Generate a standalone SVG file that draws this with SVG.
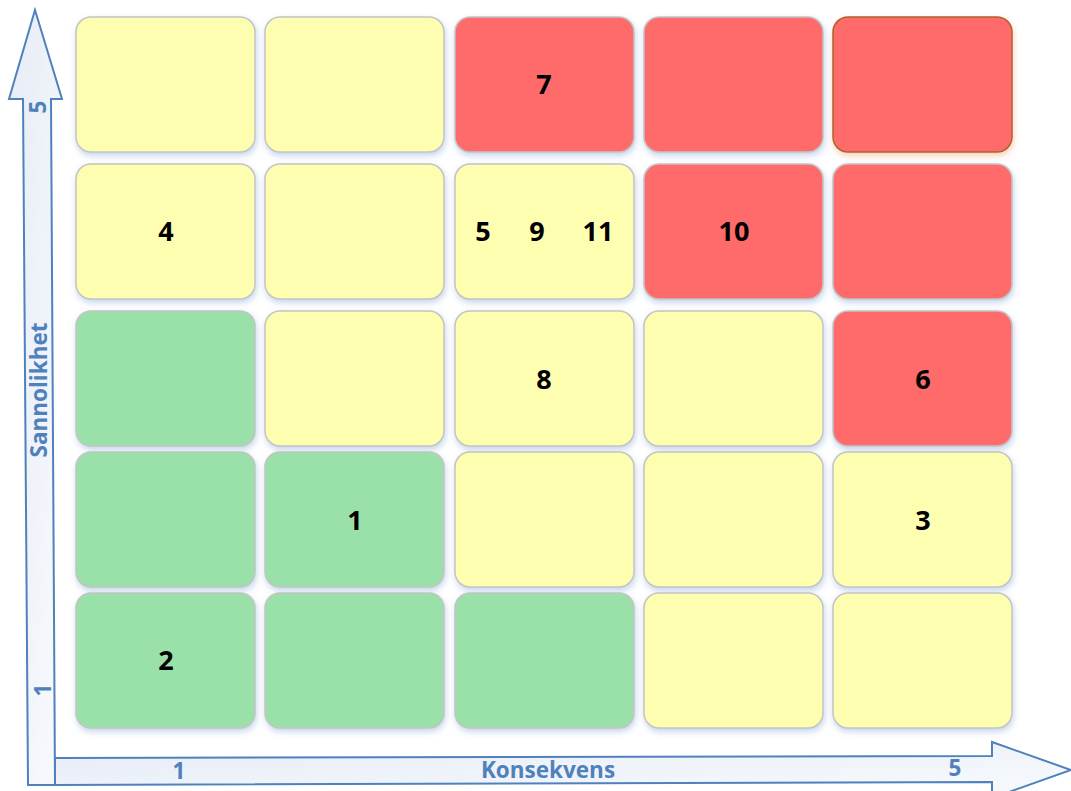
<svg xmlns="http://www.w3.org/2000/svg" width="1071" height="791" viewBox="0 0 1071 791">
<defs>
<filter id="sh" x="-10%" y="-10%" width="125%" height="130%">
<feDropShadow dx="1" dy="3" stdDeviation="3" flood-color="#7FA3D6" flood-opacity="0.45"/>
</filter>
<filter id="glow" x="-10%" y="-10%" width="125%" height="130%">
<feDropShadow dx="1" dy="3" stdDeviation="3" flood-color="#F0A070" flood-opacity="0.5"/>
</filter>
<linearGradient id="ag" x1="0" y1="0" x2="1" y2="1">
<stop offset="0" stop-color="#E6ECF6"/>
<stop offset="1" stop-color="#F8FAFD"/>
</linearGradient>
</defs>
<style>
.c{stroke:#C4C4C4;stroke-width:1.5;filter:url(#sh)}
.y{fill:#FEFEB1}
.g{fill:#99E0A9}
.r{fill:#FF6B6B}
.n{font-family:"Open Sans","Liberation Sans",sans-serif;font-weight:bold;font-size:27px;fill:#000;text-anchor:middle;dominant-baseline:central}
.a{font-family:"Open Sans","Liberation Sans",sans-serif;font-weight:bold;font-size:22.5px;fill:#4F81BD;text-anchor:middle;dominant-baseline:central}
.ar{fill:url(#ag);stroke:#4F81BD;stroke-width:2;stroke-linejoin:miter}
</style>
<g id="axes">
<path class="ar" d="M35,10 L62,99 L51,99 L55,785 L28,785 L23,99 L9,99 Z"/>
<path class="ar" d="M55,758 L992,756 L992,742 L1071,770 L992,798 L992,782 L55,785 Z"/>
<text class="a" transform="translate(37,107) rotate(-90)">5</text>
<text class="a" transform="translate(42,690) rotate(-90)">1</text>
<text class="a" transform="translate(38,390) rotate(-90)">Sannolikhet</text>
<text class="a" x="179" y="770">1</text>
<text class="a" x="548" y="769">Konsekvens</text>
<text class="a" x="955" y="767">5</text>
</g>
<g id="connectors"/>
<g id="r1c1"><rect class="c y" x="76" y="17" width="179" height="135" rx="15"/></g>
<g id="r1c2"><rect class="c y" x="265" y="17" width="179" height="135" rx="15"/></g>
<g id="r1c3"><rect class="c r" x="455" y="17" width="179" height="135" rx="15"/><text class="n" x="544" y="83">7</text></g>
<g id="r1c4"><rect class="c r" x="644" y="17" width="179" height="135" rx="15"/></g>
<g id="r1c5"><rect class="r" x="833" y="17" width="179" height="135" rx="15" stroke="#B0622C" stroke-width="1.5" filter="url(#glow)"/></g>
<g id="r2c1"><rect class="c y" x="76" y="164" width="179" height="135" rx="15"/><text class="n" x="166" y="230">4</text></g>
<g id="r2c2"><rect class="c y" x="265" y="164" width="179" height="135" rx="15"/></g>
<g id="r2c3"><rect class="c y" x="455" y="164" width="179" height="135" rx="15"/><text class="n" x="483" y="230">5</text><text class="n" x="537" y="230">9</text><text class="n" x="598" y="230">11</text></g>
<g id="r2c4"><rect class="c r" x="644" y="164" width="179" height="135" rx="15"/><text class="n" x="734" y="230">10</text></g>
<g id="r2c5"><rect class="c r" x="833" y="164" width="179" height="135" rx="15"/></g>
<g id="r3c1"><rect class="c g" x="76" y="311" width="179" height="135" rx="15"/></g>
<g id="r3c2"><rect class="c y" x="265" y="311" width="179" height="135" rx="15"/></g>
<g id="r3c3"><rect class="c y" x="455" y="311" width="179" height="135" rx="15"/><text class="n" x="544" y="378">8</text></g>
<g id="r3c4"><rect class="c y" x="644" y="311" width="179" height="135" rx="15"/></g>
<g id="r3c5"><rect class="c r" x="833" y="311" width="179" height="135" rx="15"/><text class="n" x="923" y="378">6</text></g>
<g id="r4c1"><rect class="c g" x="76" y="452" width="179" height="135" rx="15"/></g>
<g id="r4c2"><rect class="c g" x="265" y="452" width="179" height="135" rx="15"/><text class="n" x="355" y="519">1</text></g>
<g id="r4c3"><rect class="c y" x="455" y="452" width="179" height="135" rx="15"/></g>
<g id="r4c4"><rect class="c y" x="644" y="452" width="179" height="135" rx="15"/></g>
<g id="r4c5"><rect class="c y" x="833" y="452" width="179" height="135" rx="15"/><text class="n" x="923" y="519">3</text></g>
<g id="r5c1"><rect class="c g" x="76" y="593" width="179" height="135" rx="15"/><text class="n" x="166" y="659">2</text></g>
<g id="r5c2"><rect class="c g" x="265" y="593" width="179" height="135" rx="15"/></g>
<g id="r5c3"><rect class="c g" x="455" y="593" width="179" height="135" rx="15"/></g>
<g id="r5c4"><rect class="c y" x="644" y="593" width="179" height="135" rx="15"/></g>
<g id="r5c5"><rect class="c y" x="833" y="593" width="179" height="135" rx="15"/></g>
</svg>
